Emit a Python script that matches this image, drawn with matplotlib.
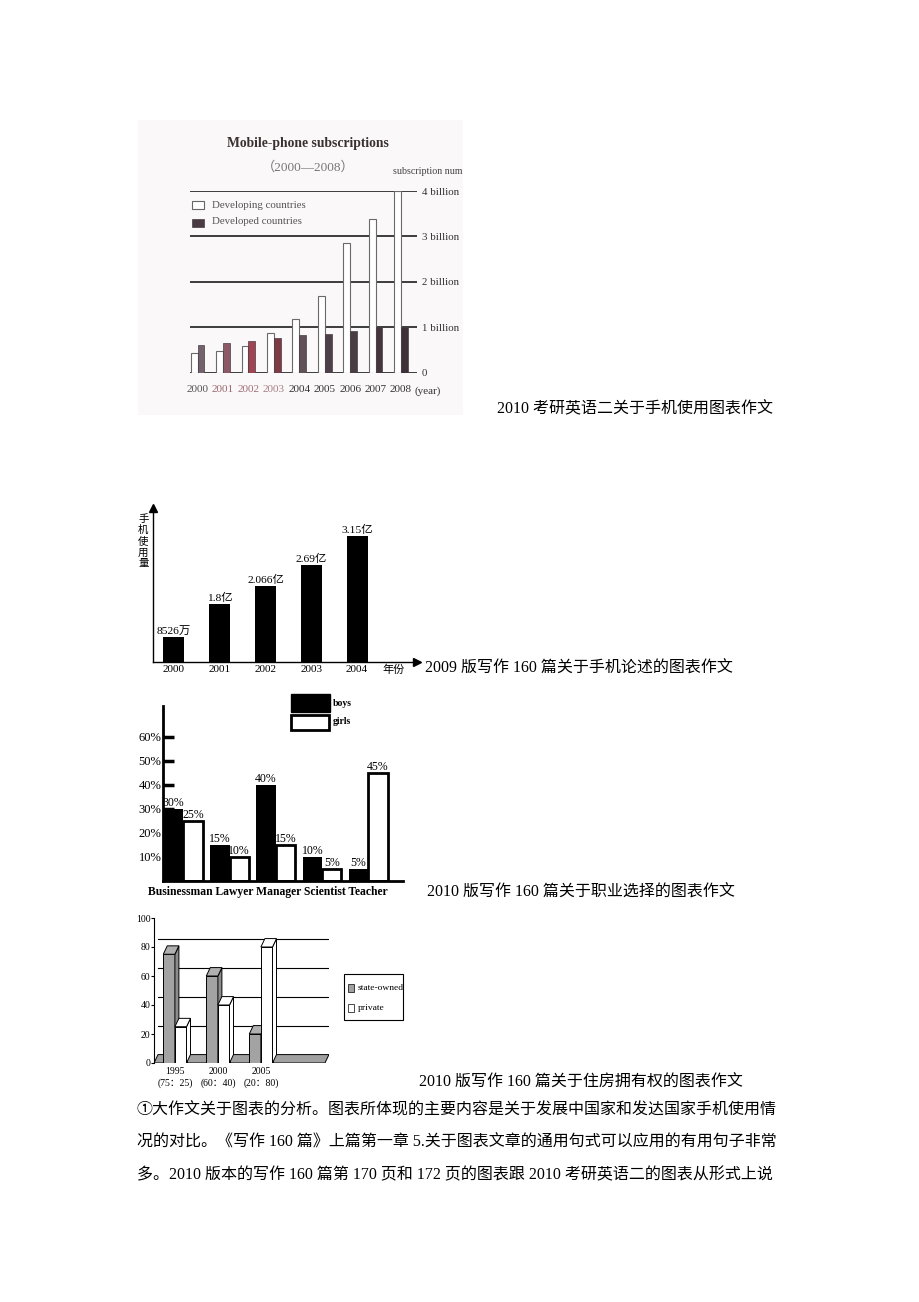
import numpy as np
import matplotlib
matplotlib.use('Agg')
import matplotlib.pyplot as plt
from matplotlib.patches import Rectangle, Polygon

plt.rcParams['font.family'] = ['Liberation Serif', 'Noto Sans CJK SC']

# ---- chart 1: mobile-phone subscriptions (billion)
years1 = ['2000', '2001', '2002', '2003', '2004', '2005', '2006', '2007', '2008']
developing = [0.43, 0.48, 0.59, 0.88, 1.18, 1.69, 2.85, 3.39, 4.0]
developed = [0.61, 0.66, 0.70, 0.76, 0.82, 0.86, 0.91, 1.01, 1.01]
ticks1 = ['0', '1 billion', '2 billion', '3 billion', '4 billion']

# ---- chart 2: 手机使用量
years2 = ['2000', '2001', '2002', '2003', '2004']
usage_labels = ['8526万', '1.8亿', '2.066亿', '2.69亿', '3.15亿']
usage_drawn = [0.61, 1.44, 1.90, 2.42, 3.15]   # bar heights as drawn (亿)

# ---- chart 3: career choice (%)
jobs = ['Businessman', 'Lawyer', 'Manager', 'Scientist', 'Teacher']
boys = [30, 15, 40, 10, 5]
girls = [25, 10, 15, 5, 45]

# ---- chart 4: housing ownership (%)
years4 = ['1995', '2000', '2005']
state_owned = [75, 60, 20]
private = [25, 40, 80]

W, H = 920, 1302
fig = plt.figure(figsize=(W / 100, H / 100), dpi=100)
fig.patch.set_facecolor('white')

page = fig.add_axes([0, 0, 1, 1])
page.set_xlim(0, W)
page.set_ylim(H, 0)
page.axis('off')


def box(x0, y0, x1, y1):
    ax = fig.add_axes([x0 / W, 1 - y1 / H, (x1 - x0) / W, (y1 - y0) / H])
    ax.set_facecolor('none')
    return ax


# ================= chart 1 =================
page.add_patch(Rectangle((138, 120), 325, 295, facecolor='#faf8f8', edgecolor='none'))
ax1 = box(190, 191, 417, 372.7)
x1 = np.arange(len(years1))
bw = 0.27
dev_colors = ['#73616b', '#8c5a66', '#a04452', '#7f3b45', '#605058',
              '#4e4048', '#4a3c44', '#45363e', '#3e3038']
ax1.bar(x1 - bw / 2, developing, bw, facecolor='white', edgecolor='#6a6a6a', lw=0.8, zorder=3)
ax1.bar(x1 + bw / 2, developed, bw, color=dev_colors, edgecolor='#4a3c44', lw=0.5, zorder=3)
for v in range(5):
    ax1.axhline(v, color='#3c3c3c', lw=1.4, zorder=2)
ax1.set_xlim(-0.30, 8.63)
ax1.set_ylim(0, 4)
for s in ax1.spines.values():
    s.set_visible(False)
ax1.set_xticks(x1, years1)
ax1.tick_params(axis='x', length=0, pad=8.5, labelsize=8)
lab_colors = ['#555', '#9a6a70', '#a07078', '#a88088', '#333', '#333', '#333', '#333', '#333']
for t, c in zip(ax1.get_xticklabels(), lab_colors):
    t.set_color(c)
ax1.yaxis.tick_right()
ax1.set_yticks(range(5), ticks1)
ax1.tick_params(axis='y', length=0, pad=3.5, labelsize=7.8, labelcolor='#333')

page.text(308, 143, 'Mobile-phone subscriptions', ha='center', va='center',
          fontsize=9.8, fontweight='bold', color='#3a3030')
page.text(308, 167, '（2000—2008）', ha='center', va='center', fontsize=9.5, color='#777')
page.text(393, 172, 'subscription num', ha='left', va='center', fontsize=7.2, color='#444')
page.text(415, 391, '(year)', ha='left', va='center', fontsize=8, color='#333')
page.add_patch(Rectangle((192, 201), 12, 8, facecolor='white', edgecolor='#666', lw=0.8))
page.add_patch(Rectangle((192, 219), 12, 8, facecolor='#4a3a42', edgecolor='#4a3a42', lw=0.5))
page.text(212, 205, 'Developing countries', ha='left', va='center', fontsize=7.8, color='#555')
page.text(212, 222, 'Developed countries', ha='left', va='center', fontsize=7.8, color='#555')

page.text(497, 409, '2010 考研英语二关于手机使用图表作文', ha='left', va='center', fontsize=11.5)

# ================= chart 2 =================
ax2 = box(152.7, 508, 416.7, 661.7)
x2 = np.arange(len(years2))
ax2.bar(x2, usage_drawn, 0.46, color='black')
for i, (h, lab) in enumerate(zip(usage_drawn, usage_labels)):
    ax2.text(i, h + 0.03, lab, ha='center', va='bottom', fontsize=8.2)
ax2.set_xlim(-0.46, 5.30)
ax2.set_ylim(0, 3.85)
for s in ['top', 'right']:
    ax2.spines[s].set_visible(False)
for s in ['left', 'bottom']:
    ax2.spines[s].set_linewidth(1.0)
ax2.plot([0], [1], marker='^', ms=6, color='k', transform=ax2.transAxes, clip_on=False)
ax2.plot([1], [0], marker='>', ms=6, color='k', transform=ax2.transAxes, clip_on=False)
ax2.set_yticks([])
ax2.set_xticks(x2, years2)
ax2.tick_params(axis='x', length=0, pad=2.5, labelsize=8)
page.text(382, 670, '年份', ha='left', va='center', fontsize=8)
page.text(143.3, 541, '\n'.join('手机使用量'), ha='center', va='center', fontsize=7.5,
          linespacing=1.2)

page.text(425, 669, '2009 版写作 160 篇关于手机论述的图表作文', ha='left', va='center', fontsize=11.5)

# ================= chart 3 =================
ax3 = box(162.7, 706, 403.3, 880.7)
x3 = np.arange(len(jobs))
w3 = 0.42
ax3.bar(x3 - w3 / 2, boys, w3, color='black', zorder=2)
ax3.bar(x3 + w3 / 2, girls, w3, facecolor='white', edgecolor='black', lw=2, zorder=2)
for i in range(len(jobs)):
    ax3.text(i - w3 / 2, boys[i], f'{boys[i]}%', ha='center', va='bottom', fontsize=8.5, zorder=4)
    ax3.text(i + w3 / 2, girls[i], f'{girls[i]}%', ha='center', va='bottom', fontsize=8.5, zorder=4)
ax3.set_xlim(-0.445, 4.757)
ax3.set_ylim(0, 72.8)
ax3.set_axisbelow(True)
for s in ['top', 'right']:
    ax3.spines[s].set_visible(False)
for s in ['left', 'bottom']:
    ax3.spines[s].set_linewidth(2)
ax3.set_xticks([])
ax3.set_yticks(range(10, 70, 10), [f'{v}%' for v in range(10, 70, 10)])
ax3.tick_params(axis='y', direction='in', length=8, width=2.5, pad=1, labelsize=9)
page.text(148, 892, ' '.join(jobs), ha='left', va='center', fontsize=8.4, fontweight='bold')
page.add_patch(Rectangle((291, 694), 39, 17.5, facecolor='black', edgecolor='black', lw=1))
page.add_patch(Rectangle((291, 715), 38, 15, facecolor='white', edgecolor='black', lw=2))
page.text(333, 703.5, 'boys', ha='left', va='center', fontsize=7, fontweight='bold')
page.text(333, 722, 'girls', ha='left', va='center', fontsize=7, fontweight='bold')

page.text(427, 893, '2010 版写作 160 篇关于职业选择的图表作文', ha='left', va='center', fontsize=11.5)

# ================= chart 4 =================
ax4 = box(154, 918, 329, 1063)
x4 = np.arange(len(years4))
w4 = 0.27
dx, dy = 0.093, 5.8
xl, xr = -0.486, 3.49
ax4.set_xlim(xl, 3.584)
ax4.set_ylim(0, 100)
for v in [20, 40, 60, 80]:
    ax4.plot([xl + dx, 3.584], [v + dy, v + dy], color='black', lw=0.8, zorder=1)
ax4.add_patch(Polygon([(xl, 0), (xr, 0), (xr + dx, dy), (xl + dx, dy)], closed=True,
                      facecolor='#a0a0a0', edgecolor='black', lw=0.7, zorder=1.5))


def bar3d(left, val, front, side, top):
    ax4.bar(left, val, w4, align='edge', facecolor=front, edgecolor='black', lw=0.7, zorder=3)
    ax4.add_patch(Polygon([(left + w4, 0), (left + w4 + dx, dy), (left + w4 + dx, val + dy),
                           (left + w4, val)], closed=True, facecolor=side,
                          edgecolor='black', lw=0.7, zorder=3))
    ax4.add_patch(Polygon([(left, val), (left + w4, val), (left + w4 + dx, val + dy),
                           (left + dx, val + dy)], closed=True, facecolor=top,
                          edgecolor='black', lw=0.7, zorder=3))


for i in range(len(years4)):
    bar3d(x4[i] - w4, state_owned[i], '#a3a3a3', '#8c8c8c', '#b0b0b0')
    bar3d(x4[i], private[i], 'white', 'white', 'white')

for s in ['top', 'right', 'bottom']:
    ax4.spines[s].set_visible(False)
ax4.spines['left'].set_linewidth(0.8)
ax4.set_yticks(range(0, 101, 20))
ax4.tick_params(axis='y', direction='out', length=2, pad=0.5, labelsize=7)
ax4.set_xticks(x4, [f'{y}\n({s}：{p})' for y, s, p in zip(years4, state_owned, private)])
ax4.tick_params(axis='x', length=0, pad=3, labelsize=7)
for t in ax4.get_xticklabels():
    t.set_linespacing(1.35)

page.add_patch(Rectangle((344.3, 974.3), 59, 45.7, facecolor='white', edgecolor='black', lw=0.8))
page.add_patch(Rectangle((348, 984), 6, 8, facecolor='#a0a0a0', edgecolor='black', lw=0.5))
page.add_patch(Rectangle((348, 1004), 6, 8, facecolor='white', edgecolor='black', lw=0.5))
page.text(357.7, 988.3, 'state-owned', ha='left', va='center', fontsize=6.8)
page.text(357.7, 1008.3, 'private', ha='left', va='center', fontsize=6.8)

page.text(419, 1083, '2010 版写作 160 篇关于住房拥有权的图表作文', ha='left', va='center', fontsize=11.5)

# ================= body text =================
body = ['①大作文关于图表的分析。图表所体现的主要内容是关于发展中国家和发达国家手机使用情',
        '况的对比。《写作 160 篇》上篇第一章 5.关于图表文章的通用句式可以应用的有用句子非常',
        '多。2010 版本的写作 160 篇第 170 页和 172 页的图表跟 2010 考研英语二的图表从形式上说']
for k, line in enumerate(body):
    page.text(137, 1111 + 32 * k, line, ha='left', va='center', fontsize=11.5)

fig.savefig('out.png', dpi=100)
